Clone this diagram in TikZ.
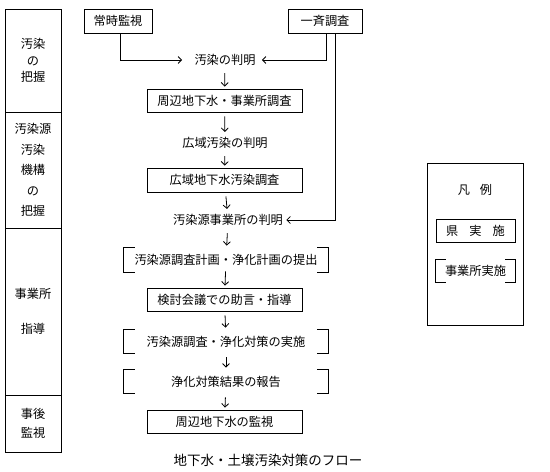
\documentclass[tikz,border=0pt]{standalone}
\usepackage{fontspec}
\setmainfont{Noto Sans CJK JP}
\usetikzlibrary{arrows.meta, positioning}

\begin{document}
\begin{tikzpicture}[x=1pt,y=-1pt,line width=0.8pt,
 font=\fontsize{12.2}{15}\selectfont,
 box/.style={rectangle,draw=black,inner sep=0pt,minimum height=23pt},
 phase/.style={rectangle,draw=black,inner sep=0pt,minimum width=56pt,align=center},
 label/.style={inner sep=3pt},
 bracketed/.style={inner sep=0pt,minimum width=204pt,minimum height=23pt},
 flow/.style={-{Straight Barb[length=3.5pt,width=7pt]},shorten <=4pt,shorten >=2pt}]
 \useasboundingbox (0,0) rectangle (550,472);

 % left column
 \node[phase,minimum height=103pt,font=\fontsize{12.2}{16.5}\selectfont] (ph1) at (33,60.5)
   {汚染\\の\\把握};
 \node[phase,minimum height=116pt,font=\fontsize{12.2}{20.5}\selectfont] (ph2) at (33,170)
   {汚染源\\汚染\\機構\\の\\把握};
 \node[phase,minimum height=167pt,font=\fontsize{12.2}{35}\selectfont] (ph3) at (33,311.5)
   {事業所\\指導};
 \node[phase,minimum height=57pt,font=\fontsize{12.2}{19}\selectfont] (ph4) at (33,423.5)
   {事後\\監視};

 % flow
 \node[box,minimum width=68pt,minimum height=24pt] (joji) at (118,21) {常時監視};
 \node[box,minimum width=74pt,minimum height=24pt] (isse) at (325,21) {一斉調査};
 \node[label] (hanmei) at (225,60) {汚染の判明};
 \node[box,minimum width=155pt] (shuhen) at (224.5,100.5) {周辺地下水・事業所調査};
 \node[label] (koiki) at (225,143) {広域汚染の判明};
 \node[box,minimum width=155pt,minimum height=24pt] (koikichosa) at (224.5,180) {広域地下水汚染調査};
 \node[label] (gensen) at (228,220) {汚染源事業所の判明};
 \node[bracketed,minimum height=24pt] (plan) at (226,260) {汚染源調査計画・浄化計画の提出};
 \node[box,minimum width=155pt] (kento) at (224.5,299.5) {検討会議での助言・指導};
 \node[bracketed] (work) at (226,341.5) {汚染源調査・浄化対策の実施};
 \node[bracketed] (report) at (226,381.5) {浄化対策結果の報告};
 \node[box,minimum width=155pt] (kanshi) at (224.5,421.5) {周辺地下水の監視};

 \draw[flow,shorten <=0pt,shorten >=9pt] ([xshift=2pt]joji.south) |- (hanmei);
 \draw[flow,shorten <=0pt,shorten >=3pt] ([xshift=1pt]isse.south) |- (hanmei);
 \draw[flow,shorten <=0pt,shorten >=0pt] ([xshift=10pt]isse.south) |- (gensen);
 \draw[flow] (hanmei) -- (shuhen);
 \draw[flow] (shuhen) -- (koiki);
 \draw[flow] (koiki) -- (koikichosa);
 \draw[flow] (koikichosa) -- (gensen);
 \draw[flow] (gensen) -- (plan);
 \draw[flow,shorten <=-1pt] (plan) -- (kento);
 \draw[flow] (kento) -- (work);
 \draw[flow] (work) -- (report);
 \draw[flow] (report) -- (kanshi);

 % legend
 \node[rectangle,draw=black,minimum width=96pt,minimum height=162pt] (legend) at (475,244) {};
 \node (hanrei) at (475,190) {凡\hspace{0.8em}例};
 \node[box,minimum width=79pt] (ken) at (475.5,230.5) {県\hspace{0.9em}実\hspace{0.9em}施};
 \node[bracketed,minimum width=79pt,minimum height=22pt] (jigyo) at (475.5,271) {事業所実施};

 \foreach \n/\t in {plan/11,work/11,report/11,jigyo/10} {
   \draw ([xshift=\t pt]\n.north west) -- (\n.north west) -- (\n.south west)
     -- ([xshift=\t pt]\n.south west);
   \draw ([xshift=-\t pt]\n.north east) -- (\n.north east) -- (\n.south east)
     -- ([xshift=-\t pt]\n.south east);
 }

 \node[font=\fontsize{13.5}{16}\selectfont] (title) at (268,460) {地下水・土壌汚染対策のフロー};
\end{tikzpicture}
\end{document}
